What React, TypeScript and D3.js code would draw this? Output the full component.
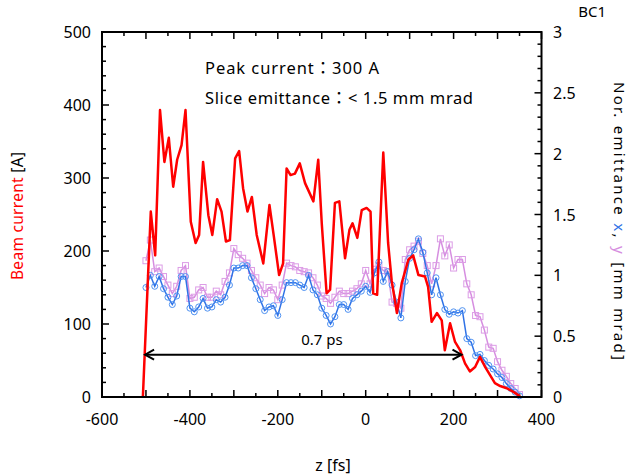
import React from "react";
import * as d3 from "d3";

const redZ = [-507,-489,-479,-468,-458,-448,-438,-429,-419,-410,-398,-387,-379,-370,-358,-349,-338,-328,-318,-309,-297,-288,-279,-269,-259,-248,-233,-219,-209,-197,-188,-180,-171,-161,-150,-138,-119,-108,-100,-89,-81,-70,-60,-47,-37,-30,-19,-9,2,11,17,26,40,51,59,71,82,97,108,120,135,142,150,162,173,180,192,203,215,226,237,249,260,272,283,294,306,321,336,351];
const redI = [0,254,194,393,322,355,288,325,345,393,240,211,222,322,249,222,271,254,213,215,327,337,286,254,274,222,183,263,220,167,183,313,304,306,320,293,268,325,238,142,147,266,268,190,229,238,218,256,259,254,142,140,335,211,160,115,156,188,194,167,165,151,103,115,105,64,101,76,64,46,35,41,55,41,30,19,15,12,7,1];

const emitZ = [-500,-490,-480,-470,-460,-450,-440,-430,-420,-410,-400,-390,-380,-370,-360,-350,-340,-330,-320,-310,-300,-290,-280,-270,-260,-250,-240,-230,-220,-210,-200,-190,-180,-170,-160,-150,-140,-130,-120,-110,-100,-90,-80,-70,-60,-50,-40,-30,-20,-10,0,10,20,30,40,50,60,70,80,90,100,110,120,130,140,150,160,170,180,190,200,210,220,230,240,250,260,270,280,290,300,310,320,330,340,350];
const emitX = [0.90,1.00,0.91,0.99,0.89,0.82,0.76,0.83,0.99,0.99,0.73,0.70,0.74,0.81,0.73,0.74,0.80,0.78,0.82,0.92,1.06,1.06,1.08,1.08,0.98,0.89,0.80,0.71,0.74,0.75,0.67,0.80,0.94,0.94,0.94,0.92,0.90,1.00,0.88,0.84,0.73,0.67,0.60,0.66,0.76,0.76,0.72,0.81,0.84,0.87,0.91,0.86,1.02,1.11,0.95,1.03,0.92,0.78,0.65,0.95,1.14,1.21,1.30,1.19,1.02,0.84,0.98,0.84,0.72,0.68,0.70,0.69,0.71,0.48,0.45,0.34,0.35,0.30,0.26,0.23,0.19,0.16,0.11,0.07,0.04,0.01];
const emitY = [1.12,1.29,1.03,1.06,0.99,0.92,0.85,0.91,1.04,1.08,0.81,0.82,0.88,0.90,0.82,0.82,0.87,0.84,0.95,1.02,1.22,1.17,1.14,1.10,1.04,0.98,0.92,0.85,0.90,0.88,0.80,0.92,1.10,1.08,1.07,1.04,1.03,1.02,0.98,0.92,0.83,0.81,0.77,0.82,0.87,0.85,0.85,0.87,0.89,0.93,1.04,0.93,1.05,1.08,1.04,1.03,0.78,0.77,0.73,1.13,1.21,1.24,1.28,1.18,1.08,0.93,1.08,1.30,1.16,1.25,1.06,1.13,1.13,0.93,0.84,0.67,0.66,0.55,0.41,0.40,0.29,0.22,0.17,0.11,0.07,0.02];

const xTicks = [-600,-400,-200,0,200,400];
const yLeftTicks = [0,100,200,300,400,500];
const yRightTicks = [0,0.5,1,1.5,2,2.5,3];
const yRightLabels = ["0","0.5","1","1.5","2","2.5","3"];

const arrowZ = [-502, 218];
const arrowI = 58;

const FONT = "'Noto Sans', 'Noto Sans CJK JP', sans-serif";
const RED = "#ff0000";
const BLUE = "#2f72e6";
const BLUE_M = "#4f92f2";
const VIOLET = "#d68ee0";
const VIOLET_M = "#dc9ce6";

export default function App() {
  const L = 102, R = 541.5, T = 32, B = 397;
  const x = d3.scaleLinear().domain([-600, 400]).range([L, R]);
  const yL = d3.scaleLinear().domain([0, 500]).range([B, T]);
  const yR = d3.scaleLinear().domain([0, 3]).range([B, T]);

  const redLine = d3.line<number>().x((_, i) => x(redZ[i])).y((d) => yL(d))(redI) || "";
  const xLine = d3.line<number>().x((_, i) => x(emitZ[i])).y((d) => yR(d))(emitX) || "";
  const yLine = d3.line<number>().x((_, i) => x(emitZ[i])).y((d) => yR(d))(emitY) || "";

  const xMinor = d3.range(-600, 401, 50);
  const yLMinor = d3.range(0, 501, 20);
  const yRMinor = d3.range(0, 31, 1).map((v) => v / 10);

  const ax1 = x(arrowZ[0]), ax2 = x(arrowZ[1]), ay = yL(arrowI);

  return (
    <svg width={632} height={475} style={{ position: "absolute", left: 0, top: 0, background: "#fff" }} fontFamily={FONT}>
      <rect x={0} y={0} width={632} height={475} fill="#fff" />
      {/* ticks */}
      <g stroke="#000" strokeWidth={1.5}>
        {xMinor.map((v) => {
          const major = v % 100 === 0;
          const len = major ? 7 : 4;
          return (
            <g key={"xt" + v}>
              <line x1={x(v)} x2={x(v)} y1={B} y2={B - len} />
              <line x1={x(v)} x2={x(v)} y1={T} y2={T + len} />
            </g>
          );
        })}
        {yLMinor.map((v) => {
          const major = v % 100 === 0;
          const len = major ? 7 : 4;
          return <line key={"yl" + v} x1={L} x2={L + len} y1={yL(v)} y2={yL(v)} />;
        })}
        {yRMinor.map((v, i) => {
          const major = i % 5 === 0;
          const len = major ? 7 : 4;
          return <line key={"yr" + i} x1={R} x2={R - len} y1={yR(v)} y2={yR(v)} />;
        })}
      </g>
      {/* emittance y (violet squares) */}
      <path d={yLine} fill="none" stroke={VIOLET} strokeWidth={1.5} />
      {emitY.map((v, i) => (
        <rect key={"sq" + i} x={x(emitZ[i]) - 3} y={yR(v) - 3} width={6} height={6} fill="none" stroke={VIOLET_M} strokeWidth={1} />
      ))}
      {/* emittance x (blue circles) */}
      <path d={xLine} fill="none" stroke={BLUE} strokeWidth={1.5} />
      {emitX.map((v, i) => (
        <circle key={"ci" + i} cx={x(emitZ[i])} cy={yR(v)} r={3} fill="none" stroke={BLUE_M} strokeWidth={1} />
      ))}
      {/* beam current */}
      <path d={redLine} fill="none" stroke={RED} strokeWidth={2.5} strokeLinejoin="round" />
      {/* frame */}
      <rect x={L} y={T} width={R - L} height={B - T} fill="none" stroke="#000" strokeWidth={2} />
      {/* arrow */}
      <g stroke="#000" strokeWidth={2} fill="none">
        <line x1={ax1} x2={ax2} y1={ay} y2={ay} />
        <polyline points={`${ax1 + 9},${ay - 5} ${ax1},${ay} ${ax1 + 9},${ay + 5}`} />
        <polyline points={`${ax2 - 9},${ay - 5} ${ax2},${ay} ${ax2 - 9},${ay + 5}`} />
      </g>
      <text x={322} y={345} fontSize={15} textAnchor="middle" fill="#000">0.7 ps</text>
      {/* annotations */}
      <text x={205} y={74} fontSize={16.5} fill="#000" textLength={174} lengthAdjust="spacing">Peak current：300 A</text>
      <text x={205} y={104} fontSize={16.5} fill="#000" textLength={268} lengthAdjust="spacing">Slice emittance：&lt; 1.5 mm mrad</text>
      <text x={606} y={17} fontSize={15} textAnchor="end" fill="#000">BC1</text>
      {/* tick labels */}
      {xTicks.map((v) => (
        <text key={"xl" + v} x={x(v)} y={425} fontSize={16} textAnchor="middle" fill="#000">{v}</text>
      ))}
      {yLeftTicks.map((v) => (
        <text key={"yll" + v} x={91} y={yL(v) + 6} fontSize={16} textAnchor="end" fill="#000">{v}</text>
      ))}
      {yRightTicks.map((v, i) => (
        <text key={"yrl" + v} x={553} y={yR(v) + 6} fontSize={16} textAnchor="start" fill="#000">{yRightLabels[i]}</text>
      ))}
      {/* axis titles */}
      <text x={333} y={471} fontSize={16} textAnchor="middle" fill="#000">z [fs]</text>
      <text transform={`translate(23,216) rotate(-90)`} fontSize={15.5} textAnchor="middle" textLength={128} lengthAdjust="spacing">
        <tspan fill={RED}>Beam current</tspan>
        <tspan fill="#000"> [A]</tspan>
      </text>
      <text transform={`translate(614,221) rotate(90)`} fontSize={15} textAnchor="middle" textLength={278} lengthAdjust="spacing">
        <tspan fill="#000">Nor. emittance </tspan>
        <tspan fill={BLUE}>x</tspan>
        <tspan fill="#000">, </tspan>
        <tspan fill={VIOLET}>y</tspan>
        <tspan fill="#000"> [mm mrad]</tspan>
      </text>
    </svg>
  );
}
